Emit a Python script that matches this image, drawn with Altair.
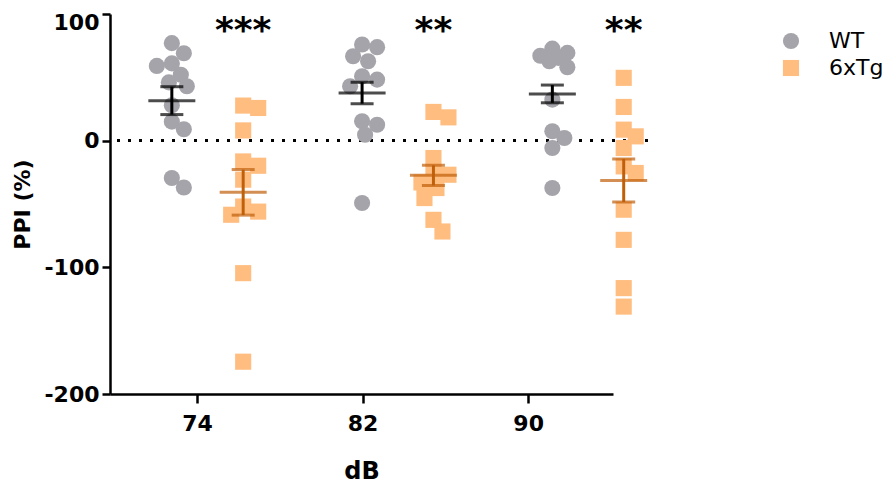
import altair as alt
import pandas as pd

DB_LEVELS = [74, 82, 90]
GROUPS = ["WT", "6xTg"]

WT_74 = [77, 69, 61, 59, 52, 46, 43, 28, 15, 9, -29.5, -37]
TG_74 = [27.7, 25.8, 8.1, -16.4, -19.8, -30.8, -52, -56, -58.5, -104.6, -174.5]
WT_82 = [75.9, 73.8, 66.6, 62.7, 50.8, 48.2, 43, 15.3, 12.6, 4.7, -49.2]
TG_82 = [22.7, 18.4, -13.7, -25.5, -26.9, -33, -37.4, -45.3, -62.5, -71.7]
WT_90 = [72.7, 69.3, 67, 65.4, 62.7, 58, 32.4, 7.4, 2.1, -5.8, -37.4]
TG_90 = [49.6, 26.6, 8.7, 3.4, -5.8, -20.3, -25.5, -54.5, -78.3, -116.4, -131]

MEAN_WT = [31.6, 37.7, 36.9]
SEM_WT = [11, 8.5, 7]
MEAN_TG = [-40.8, -27.4, -31.4]
SEM_TG = [18, 8, 17]
STARS = ["***", "**", "**"]

Y_TICKS = [-200, -100, 0, 100]

# ---- layout helpers ----
W, H = 503, 380
X_DOM = [69.9, 91.05]
X_AXIS_DOM = [69.8, 94.1]
PX_Y = H / 300.0
PX_X = W / (X_DOM[1] - X_DOM[0])
SHIFT = {"WT": -1.5, "6xTg": 1.5}
FONT = "DejaVu Sans"


def swarm(values, diam=17.0, step=3.0, maxw=15.0):
    placed = []
    offs = [0.0] * len(values)
    order = sorted(range(len(values)), key=lambda i: -values[i])
    for i in order:
        y = values[i] * PX_Y
        cands = [0.0]
        k = 1
        while k * step <= maxw:
            cands += [k * step, -k * step]
            k += 1
        best, bestd, bestcand = None, -1, 0.0
        for s in cands:
            d = min([((s - px) ** 2 + (y - py) ** 2) ** 0.5 for px, py in placed] or [1e9])
            if d >= 0.8 * diam:
                best = s
                break
            if d > bestd:
                bestd, bestcand = d, s
        if best is None:
            best = bestcand
        placed.append((best, y))
        offs[i] = best
    return offs


series = [
    ("WT", 74, WT_74), ("6xTg", 74, TG_74),
    ("WT", 82, WT_82), ("6xTg", 82, TG_82),
    ("WT", 90, WT_90), ("6xTg", 90, TG_90),
]
rows = []
for g, db, vals in series:
    for v, dx in zip(vals, swarm(vals)):
        rows.append({"group": g, "dB": db, "ppi": v,
                     "xpos": db + SHIFT[g] + dx / PX_X})
pts = pd.DataFrame(rows)

srows = []
for i, db in enumerate(DB_LEVELS):
    srows.append({"group": "WT", "dB": db, "mean": MEAN_WT[i],
                  "lo": MEAN_WT[i] - SEM_WT[i], "hi": MEAN_WT[i] + SEM_WT[i]})
    srows.append({"group": "6xTg", "dB": db, "mean": MEAN_TG[i],
                  "lo": MEAN_TG[i] - SEM_TG[i], "hi": MEAN_TG[i] + SEM_TG[i]})
stats = pd.DataFrame(srows)
stats["xpos"] = stats["dB"] + stats["group"].map(SHIFT)

stars = pd.DataFrame({"dB": DB_LEVELS, "label": STARS})
stars["xpos"] = stars["dB"] + SHIFT["6xTg"]

xs = alt.Scale(domain=X_DOM, nice=False, zero=False)
ys = alt.Scale(domain=[-200, 100], nice=False, zero=False)

y_axis = alt.Axis(values=Y_TICKS, grid=False, domainColor="black", domainWidth=2.5,
                  tickColor="black", tickWidth=2.5, tickSize=8,
                  labelExpr="datum.value < 0 ? '-' + abs(datum.value) : '' + datum.value",
                  labelFont=FONT, labelFontWeight="bold", labelFontSize=22,
                  labelColor="black", labelPadding=3,
                  labelOffset={"condition": {"test": "datum.value == 100", "value": 8}, "value": 0},
                  title="PPI (%)", titleFont=FONT, titleFontWeight="bold",
                  titleFontSize=22, titleColor="black", titleX=-76, titleY=190)

X = alt.X("xpos:Q", scale=xs, axis=None)

points = alt.Chart(pts).mark_point(filled=True, opacity=1, size=260, strokeWidth=0).encode(
    x=X,
    y=alt.Y("ppi:Q", scale=ys, axis=y_axis),
    color=alt.Color("group:N", scale=alt.Scale(domain=GROUPS, range=["#a4a4aa", "#ffbd80"]),
                    legend=alt.Legend(orient="none", legendX=670, legendY=16, title=None,
                                      labelFont=FONT, labelFontSize=22, labelColor="black",
                                      symbolSize=260, symbolOpacity=1, symbolStrokeWidth=0,
                                      labelOffset=27, rowPadding=5)),
    shape=alt.Shape("group:N", scale=alt.Scale(domain=GROUPS, range=["circle", "square"])),
    order=alt.Order("order:Q"),
).transform_calculate(order="datum.group == 'WT' ? 0 : 1")

zero = alt.Chart(pts).mark_rule(color="black", strokeDash=[2.5, 8.5], strokeWidth=2.5).encode(
    y=alt.datum(0, scale=ys), x=alt.value(7), x2=alt.value(545)
)


def errbars(group, color):
    base = alt.Chart(stats).transform_filter(alt.datum.group == group)
    stem = base.mark_rule(color=color, strokeWidth=3).encode(
        x=X, y=alt.Y("lo:Q", scale=ys), y2="hi:Q")
    mean = base.mark_tick(color=color, orient="horizontal", size=47, thickness=3).encode(
        x=X, y=alt.Y("mean:Q", scale=ys))
    cap_lo = base.mark_tick(color=color, orient="horizontal", size=23, thickness=3).encode(
        x=X, y=alt.Y("lo:Q", scale=ys))
    cap_hi = base.mark_tick(color=color, orient="horizontal", size=23, thickness=3).encode(
        x=X, y=alt.Y("hi:Q", scale=ys))
    return [stem, mean, cap_lo, cap_hi]


star_text = alt.Chart(stars).mark_text(font=FONT, fontWeight="bold", fontSize=36,
                                       color="black", baseline="top", dy=0).encode(
    x=X, y=alt.datum(100, scale=ys), text="label:N")

main = alt.layer(zero, points, *errbars("WT", "black"), *errbars("6xTg", "#c0600a"), star_text)

axis_layer = alt.Chart(pd.DataFrame({"dB": DB_LEVELS})).mark_point(opacity=0).encode(
    x=alt.X("dB:Q", scale=alt.Scale(domain=X_AXIS_DOM, nice=False, zero=False),
            axis=alt.Axis(values=DB_LEVELS, grid=False, domainColor="black", domainWidth=2.5,
                          tickColor="black", tickWidth=2.5, tickSize=9,
                          labelFont=FONT, labelFontWeight="bold", labelFontSize=22,
                          labelColor="black", labelPadding=10,
                          title="dB", titleFont=FONT, titleFontWeight="bold",
                          titleFontSize=24, titleColor="black", titlePadding=25))
)

chart = alt.layer(main, axis_layer).resolve_scale(x="independent").properties(
    width=W, height=H,
    autosize=alt.AutoSizeParams(type="none"),
    padding={"left": 102, "top": 6, "right": 275, "bottom": 89},
    background="white",
).configure_view(stroke=None)

chart.save("out.html", embed_options={"renderer": "svg", "actions": False})
